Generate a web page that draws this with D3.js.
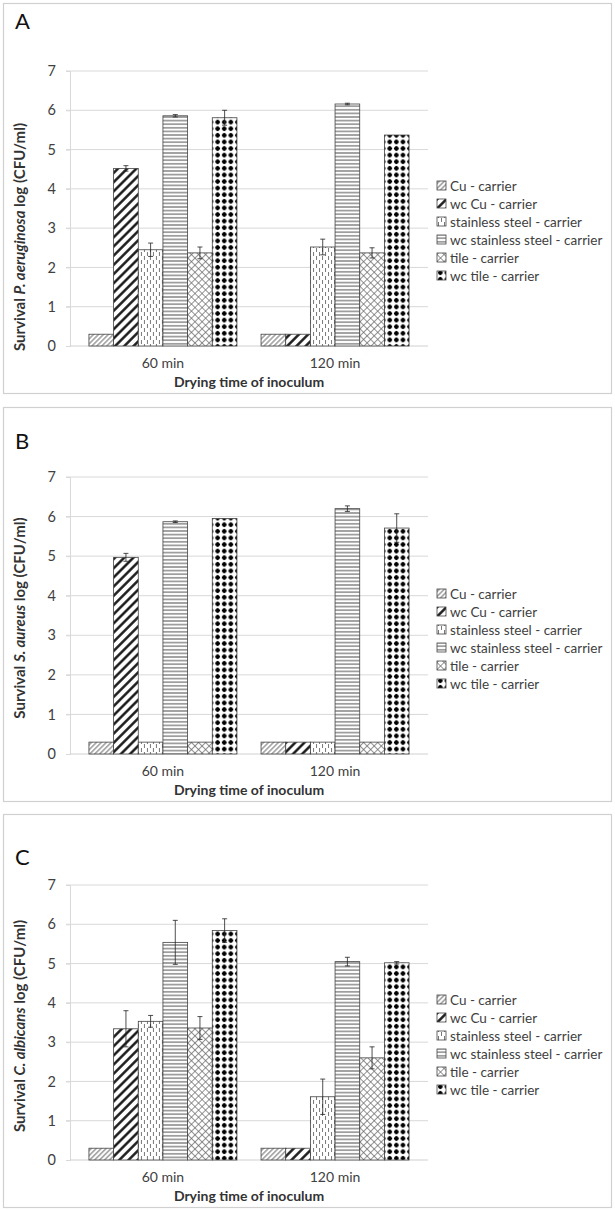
<!DOCTYPE html>
<html>
<head>
<meta charset="utf-8">
<script src="https://cdn.jsdelivr.net/npm/d3@7"></script>
<style>
  body { margin: 0; background: #fff; }
  text { font-family: Lato, "Open Sans", sans-serif; }
</style>
</head>
<body>
<script>
// data
var categories = ["60 min", "120 min"];
var seriesNames = ["Cu - carrier", "wc Cu - carrier", "stainless steel - carrier",
                   "wc stainless steel - carrier", "tile - carrier", "wc tile - carrier"];
var yTicks = [0, 1, 2, 3, 4, 5, 6, 7];
var panelLabels = ["A", "B", "C"];
var species = ["P. aeruginosa", "S. aureus", "C. albicans"];

// values[category][series] for each panel
var valuesA = [[0.3, 4.52, 2.45, 5.86, 2.37, 5.81], [0.3, 0.3, 2.52, 6.16, 2.37, 5.37]];
var errorsA = [[0, 0.07, 0.17, 0.03, 0.15, 0.19], [0, 0, 0.2, 0.02, 0.13, 0]];
var valuesB = [[0.3, 4.97, 0.3, 5.87, 0.3, 5.95], [0.3, 0.3, 0.3, 6.2, 0.3, 5.71]];
var errorsB = [[0, 0.1, 0, 0.02, 0, 0], [0, 0, 0, 0.07, 0, 0.36]];
var valuesC = [[0.3, 3.34, 3.53, 5.54, 3.36, 5.84], [0.3, 0.3, 1.61, 5.05, 2.6, 5.02]];
var errorsC = [[0, 0.46, 0.15, 0.56, 0.29, 0.3], [0, 0, 0.45, 0.11, 0.28, 0.03]];

var allValues = [valuesA, valuesB, valuesC];
var allErrors = [errorsA, errorsB, errorsC];

// layout of the three boxes
var W = 615, H = 1210;
var boxes = [
  {top: 3, bottom: 393, plotTop: 71, plotBottom: 346, titleY: 237, labelY: 29, legendY: 186},
  {top: 407, bottom: 801, plotTop: 477, plotBottom: 754, titleY: 618, labelY: 449, legendY: 594},
  {top: 814, bottom: 1207, plotTop: 885, plotBottom: 1160, titleY: 1026, labelY: 865, legendY: 1000}
];
var plotLeft = 70, plotRight = 428;

var svg = d3.select("body").append("svg")
    .attr("width", W)
    .attr("height", H);

// fill patterns
var defs = svg.append("defs");
function pat(id, w, h, rot) {
  var p = defs.append("pattern")
      .attr("id", id)
      .attr("patternUnits", "userSpaceOnUse")
      .attr("width", w)
      .attr("height", h);
  if (rot) p.attr("patternTransform", "rotate(" + rot + ")");
  p.append("rect").attr("width", w).attr("height", h).attr("fill", "#fff");
  return p;
}
// Cu: light upward diagonal
pat("p0", 3.5, 3.5, -45).append("line")
    .attr("x1", 0).attr("x2", 3.5).attr("y1", 1.75).attr("y2", 1.75)
    .attr("stroke", "#444").attr("stroke-width", 0.8);
// wc Cu: wide upward diagonal
pat("p1", 6.5, 6.5, -45).append("line")
    .attr("x1", 0).attr("x2", 6.5).attr("y1", 3.25).attr("y2", 3.25)
    .attr("stroke", "#111").attr("stroke-width", 2.4);
// stainless steel: dashed vertical
var p2 = pat("p2", 6, 8, 0);
p2.append("line").attr("x1", 1.5).attr("x2", 1.5).attr("y1", 0).attr("y2", 4)
    .attr("stroke", "#555").attr("stroke-width", 0.8);
p2.append("line").attr("x1", 4.5).attr("x2", 4.5).attr("y1", 4).attr("y2", 8)
    .attr("stroke", "#555").attr("stroke-width", 0.8);
// wc stainless steel: horizontal lines
pat("p3", 4, 3.6, 0).append("line")
    .attr("x1", 0).attr("x2", 4).attr("y1", 1.8).attr("y2", 1.8)
    .attr("stroke", "#333").attr("stroke-width", 0.9);
// tile: diagonal crosshatch
var p4 = pat("p4", 5, 5, 45);
p4.append("line").attr("x1", 0).attr("x2", 5).attr("y1", 2.5).attr("y2", 2.5)
    .attr("stroke", "#666").attr("stroke-width", 0.7);
p4.append("line").attr("x1", 2.5).attr("x2", 2.5).attr("y1", 0).attr("y2", 5)
    .attr("stroke", "#666").attr("stroke-width", 0.7);
// wc tile: black dots
var p5 = pat("p5", 6.6, 6.6, 0);
p5.append("circle").attr("cx", 3.3).attr("cy", 3.3).attr("r", 2.1).attr("fill", "#000");
p5.append("rect").attr("x", 0.9).attr("y", 2.5).attr("width", 4.8).attr("height", 1.6).attr("fill", "#000");
p5.append("rect").attr("x", 2.5).attr("y", 0.9).attr("width", 1.6).attr("height", 4.8).attr("fill", "#000");

var fills = seriesNames.map(function(d, i) { return "url(#p" + i + ")"; });

var x0 = d3.scaleBand()
    .domain(categories)
    .range([plotLeft, plotRight])
    .paddingInner(0.14)
    .paddingOuter(0.11);
var x1 = d3.scaleBand()
    .domain(d3.range(seriesNames.length))
    .range([0, x0.bandwidth()]);

boxes.forEach(function(b, pi) {
  var g = svg.append("g");
  var vals = allValues[pi], errs = allErrors[pi];

  g.append("rect")
      .attr("x", 3.5).attr("y", b.top + 0.5)
      .attr("width", W - 7).attr("height", b.bottom - b.top)
      .attr("fill", "none").attr("stroke", "#d0d0d0").attr("stroke-width", 1.2);

  g.append("text")
      .attr("x", 15).attr("y", b.labelY)
      .attr("font-size", "22px").attr("fill", "#111")
      .text(panelLabels[pi]);

  var y = d3.scaleLinear().domain([0, 7]).range([b.plotBottom, b.plotTop]);

  // gridlines
  g.append("g").selectAll("line")
      .data(yTicks.slice(1))
      .enter().append("line")
      .attr("x1", plotLeft - 4).attr("x2", plotRight)
      .attr("y1", function(d) { return y(d); })
      .attr("y2", function(d) { return y(d); })
      .attr("stroke", "#d9d9d9").attr("stroke-width", 1);

  var yAxis = g.append("g")
      .attr("transform", "translate(" + plotLeft + ",0)")
      .call(d3.axisLeft(y).tickValues(yTicks).tickFormat(d3.format("d")).tickSize(4).tickPadding(10));
  yAxis.select(".domain").attr("stroke", "#d9d9d9");
  yAxis.selectAll(".tick line").attr("stroke", "#d9d9d9");
  yAxis.selectAll(".tick text")
      .attr("font-size", "14.5px").attr("fill", "#404040")
      .attr("font-family", "Lato, 'Open Sans', sans-serif");

  // baseline
  g.append("line")
      .attr("x1", plotLeft).attr("x2", plotRight)
      .attr("y1", y(0)).attr("y2", y(0))
      .attr("stroke", "#d0d0d0");

  // bars
  var groups = g.append("g").selectAll("g")
      .data(categories)
      .enter().append("g")
      .attr("transform", function(c) { return "translate(" + x0(c) + ",0)"; });

  function rows(c, ci) {
    return vals[ci].map(function(v, si) { return {v: v, e: errs[ci][si], s: si}; });
  }

  groups.selectAll("rect")
      .data(rows)
      .enter().append("rect")
      .attr("x", function(d) { return x1(d.s); })
      .attr("y", function(d) { return y(d.v); })
      .attr("width", x1.bandwidth())
      .attr("height", function(d) { return y(0) - y(d.v); })
      .attr("fill", function(d) { return fills[d.s]; })
      .attr("stroke", "#444").attr("stroke-width", 0.8);

  // error bars
  var eb = groups.selectAll("g.err")
      .data(function(c, ci) { return rows(c, ci).filter(function(d) { return d.e > 0; }); })
      .enter().append("g").attr("class", "err")
      .attr("stroke", "#222").attr("stroke-width", 0.8);
  eb.append("line")
      .attr("x1", function(d) { return x1(d.s) + x1.bandwidth() / 2; })
      .attr("x2", function(d) { return x1(d.s) + x1.bandwidth() / 2; })
      .attr("y1", function(d) { return y(d.v - d.e); })
      .attr("y2", function(d) { return y(d.v + d.e); });
  [1, -1].forEach(function(sg) {
    eb.append("line")
        .attr("x1", function(d) { return x1(d.s) + x1.bandwidth() / 2 - 2.5; })
        .attr("x2", function(d) { return x1(d.s) + x1.bandwidth() / 2 + 2.5; })
        .attr("y1", function(d) { return y(d.v + sg * d.e); })
        .attr("y2", function(d) { return y(d.v + sg * d.e); });
  });

  // category labels
  g.append("g").selectAll("text")
      .data(categories)
      .enter().append("text")
      .attr("x", function(c) { return x0(c) + x0.bandwidth() / 2; })
      .attr("y", b.plotBottom + 22)
      .attr("text-anchor", "middle")
      .attr("font-size", "14px").attr("fill", "#404040")
      .text(function(c) { return c; });

  g.append("text")
      .attr("x", (plotLeft + plotRight) / 2)
      .attr("y", b.plotBottom + 41)
      .attr("text-anchor", "middle")
      .attr("font-size", "14px").attr("font-weight", "bold").attr("fill", "#333")
      .text("Drying time of inoculum");

  // y title
  var yt = g.append("text")
      .attr("transform", "translate(25," + b.titleY + ") rotate(-90)")
      .attr("text-anchor", "middle")
      .attr("font-size", "15px").attr("font-weight", "bold").attr("fill", "#333");
  yt.append("tspan").text("Survival ");
  yt.append("tspan").attr("font-style", "italic").text(species[pi]);
  yt.append("tspan").text(" log (CFU/ml)");

  // legend
  var lg = g.append("g").selectAll("g")
      .data(seriesNames)
      .enter().append("g")
      .attr("transform", function(d, i) { return "translate(437," + (b.legendY + i * 18) + ")"; });
  lg.append("rect")
      .attr("x", 0).attr("y", -5).attr("width", 9).attr("height", 9)
      .attr("fill", function(d, i) { return fills[i]; })
      .attr("stroke", "#444").attr("stroke-width", 0.8);
  lg.append("text")
      .attr("x", 13).attr("y", 0).attr("dy", "0.35em")
      .attr("font-size", "13.5px").attr("fill", "#404040")
      .text(function(d) { return d; });
});
</script>
</body>
</html>
